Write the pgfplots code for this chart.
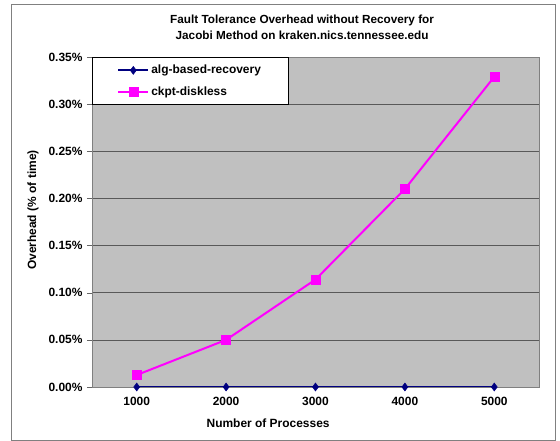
\documentclass[border=0pt]{standalone}
\usepackage{pgfplots}
\pgfplotsset{compat=1.18}
\usepackage{fontspec}
\setmainfont{Liberation Sans}
\definecolor{plotbg}{HTML}{C0C0C0}
\definecolor{navyline}{HTML}{000080}
\definecolor{magline}{HTML}{FF00FF}
\begin{document}
\begin{tikzpicture}
\path[use as bounding box] (0bp,0bp) rectangle (560bp,441bp);
\draw[black!50, line width=0.8bp] (11bp,1bp) rectangle (555bp,437bp);
\begin{axis}[
  at={(92bp,54bp)}, anchor=south west,
  scale only axis, width=447bp, height=330bp,
  xmin=-0.5, xmax=4.5, ymin=0, ymax=0.35,
  xtick={0,1,2,3,4}, xticklabels={1000,2000,3000,4000,5000},
  minor xtick={-0.5,0.5,1.5,2.5,3.5,4.5},
  ytick={0,0.05,0.1,0.15,0.2,0.25,0.3,0.35},
  yticklabel={\pgfmathprintnumber[fixed,fixed zerofill,precision=2]{\tick}\%},
  /pgf/number format/assume math mode=true,
  tick align=outside, tick pos=left,
  major tick length=5bp, minor tick length=5bp,
  xtick style={draw=none},
  minor x tick style={black!60},
  ytick style={black!60},
  axis line style={black!50, line width=0.8bp},
  axis background/.style={fill=plotbg},
  ymajorgrids, grid style={black!65, line width=0.6bp},
  ticklabel style={font=\fontsize{12}{14}\selectfont\bfseries},
  xticklabel style={yshift=-2bp},
  yticklabel style={xshift=-1bp},
  title={Fault Tolerance Overhead without Recovery for\\Jacobi Method on kraken.nics.tennessee.edu},
  title style={at={(axis description cs:0.47,1)}, anchor=south, yshift=8bp, align=center, font=\fontsize{11.8}{16}\selectfont\bfseries},
  xlabel={Number of Processes},
  xlabel style={at={(axis description cs:0.394,0)}, anchor=center, yshift=-36bp, font=\fontsize{12}{14}\selectfont\bfseries},
  ylabel={Overhead (\% of time)},
  ylabel style={at={(axis description cs:-0.132,0.536)}, anchor=center, font=\fontsize{12}{14}\selectfont\bfseries},
  legend style={at={(0,1)}, anchor=north west, draw=black, fill=white,
    font=\fontsize{12}{14}\selectfont\bfseries, cells={anchor=west},
    inner xsep=25bp, inner ysep=6bp, row sep=7bp, line width=0.6bp},
  legend image code/.code={\draw[mark repeat=2,mark phase=2,#1] plot coordinates {(0bp,0bp) (15bp,0bp) (30bp,0bp)};},
]
\addplot[navyline, line width=2bp, mark=diamond*, mark size=4bp, mark options={fill=navyline, solid, line width=0.5bp}]
  coordinates {(0,0) (1,0) (2,0) (3,0) (4,0)};
\addlegendentry{alg-based-recovery}
\addplot[magline, line width=2bp, mark=square*, mark size=4.5bp, mark options={fill=magline, solid, line width=0.5bp}]
  coordinates {(0,0.0127) (1,0.050) (2,0.114) (3,0.210) (4,0.329)};
\addlegendentry{ckpt-diskless}
\end{axis}
\end{tikzpicture}
\end{document}
